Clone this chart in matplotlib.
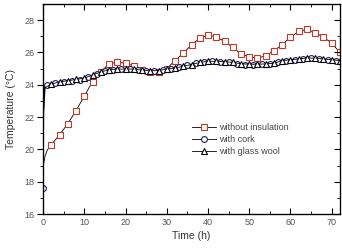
import numpy as np
import matplotlib.pyplot as plt

plt.rcParams['font.family'] = ['Liberation Sans', 'DejaVu Sans']

# without insulation (markers at even hours)
t_none = [0, 0.25, 0.5, 1, 2, 4, 6, 8, 10, 12, 14, 16, 18, 20, 22, 24, 26, 28, 30,
          32, 34, 36, 38, 40, 42, 44, 46, 48, 50, 52, 54, 56, 58, 60, 62, 64, 66,
          68, 70, 72]
y_none = [18.8, 19.3, 19.6, 19.95, 20.3, 20.9, 21.6, 22.4, 23.3, 24.2, 24.8, 25.3,
          25.4, 25.33, 25.17, 24.94, 24.82, 24.82, 25.0, 25.5, 25.95, 26.48, 26.87,
          27.08, 26.95, 26.69, 26.32, 25.89, 25.74, 25.64, 25.8, 26.1, 26.48, 26.95,
          27.3, 27.43, 27.22, 26.95, 26.57, 26.0]

# with cork (markers at odd hours)
t_cork = [0, 0.2, 1, 3, 5, 7, 9, 11, 13, 15, 17, 19, 21, 23, 25, 27, 29, 31, 33,
          35, 37, 39, 41, 43, 45, 47, 49, 51, 53, 55, 57, 59, 61, 63, 65, 67, 69,
          71, 72]
y_cork = [17.6, 23.9, 24.0, 24.08, 24.15, 24.22, 24.32, 24.48, 24.68, 24.85, 24.93,
          24.95, 24.95, 24.9, 24.85, 24.85, 24.9, 25.0, 25.1, 25.2, 25.32, 25.4,
          25.45, 25.42, 25.38, 25.3, 25.25, 25.25, 25.28, 25.3, 25.4, 25.5, 25.55,
          25.62, 25.64, 25.6, 25.55, 25.5, 25.48]

# with glass wool (markers at even hours)
t_glass = [0, 0.3, 2, 4, 6, 8, 10, 12, 14, 16, 18, 20, 22, 24, 26, 28, 30, 32, 34,
           36, 38, 40, 42, 44, 46, 48, 50, 52, 54, 56, 58, 60, 62, 64, 66, 68, 70, 72]
y_glass = [22.5, 23.8, 24.04, 24.18, 24.25, 24.33, 24.41, 24.6, 24.8, 24.92, 24.97,
           24.97, 24.97, 24.9, 24.86, 24.88, 24.97, 25.02, 25.15, 25.25, 25.38, 25.45,
           25.45, 25.43, 25.38, 25.3, 25.27, 25.27, 25.29, 25.33, 25.5, 25.54, 25.6,
           25.66, 25.64, 25.6, 25.54, 25.5]

fig = plt.figure(figsize=(3.42, 2.48), dpi=100)
ax = fig.add_axes([0.126, 0.137, 0.868, 0.847])

ax.plot(t_none, y_none, color='black', lw=0.6, marker='s', ms=4.2,
        mfc='white', mec='#c0392b', mew=0.8, markevery=list(range(4, len(t_none))),
        label='without insulation')
ax.plot(t_cork, y_cork, color='black', lw=0.6, marker='o', ms=4.2,
        mfc='white', mec='#1a1a6e', mew=0.8, markevery=[0] + list(range(2, len(t_cork) - 1)),
        label='with cork')
ax.plot(t_glass, y_glass, color='black', lw=0.6, marker='^', ms=4.5,
        mfc='white', mec='black', mew=0.8, markevery=list(range(2, len(t_glass))),
        label='with glass wool')
ax.plot([0, 0.3], [22.5, 23.8], color='black', lw=1.8)

ax.set_xlim(0, 72)
ax.set_ylim(16, 29)
ax.set_xticks(np.arange(0, 71, 10))
ax.set_xticks(np.arange(5, 72, 10), minor=True)
ax.set_yticks(np.arange(16, 29, 2))
ax.set_yticks(np.arange(17, 29, 2), minor=True)

for s in ax.spines.values():
    s.set_linewidth(0.9)

ax.tick_params(axis='x', which='both', direction='in', top=True, labelsize=6.5,
               labelcolor='#555555', pad=3)
ax.tick_params(axis='x', which='major', length=4)
ax.tick_params(axis='x', which='minor', length=2.5)
ax.tick_params(axis='y', which='both', direction='out', labelsize=6.5,
               labelcolor='#555555', pad=2)
ax.tick_params(axis='y', which='major', length=4)
ax.tick_params(axis='y', which='minor', length=2.5)

ax2 = ax.twinx()
ax2.set_ylim(16, 29)
ax2.set_yticks(np.arange(16, 29, 2))
ax2.set_yticks(np.arange(17, 29, 2), minor=True)
ax2.tick_params(axis='y', which='both', direction='in', labelright=False)
ax2.tick_params(axis='y', which='major', length=4)
ax2.tick_params(axis='y', which='minor', length=2.5)

ax.set_xlabel('Time (h)', fontsize=7.5, color='#333333', labelpad=3)
ax.set_ylabel('Temperature (\u00b0C)', fontsize=7.5, color='#333333', labelpad=6)

ax.legend(loc='upper left', bbox_to_anchor=(0.49, 0.45), frameon=False,
          fontsize=6.5, handlelength=2.6, handletextpad=0.4, labelspacing=0.35,
          borderaxespad=0, labelcolor='#444444')

fig.savefig('out.png', dpi=100)
